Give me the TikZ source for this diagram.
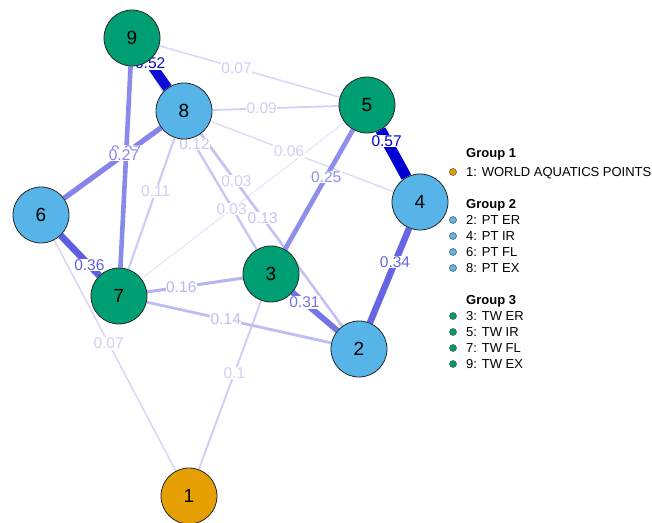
\documentclass[tikz,border=0pt]{standalone}
\usepackage{fontspec}
\setmainfont{Liberation Sans}
\usetikzlibrary{backgrounds}
\definecolor{grpA}{HTML}{E69F00}
\definecolor{grpB}{HTML}{56B4E9}
\definecolor{grpC}{HTML}{009E73}
\definecolor{eb}{RGB}{0,0,210}
\begin{document}
\begin{tikzpicture}[x=1pt,y=-1pt,
  vert/.style={circle, draw=black!85, line width=0.8pt, minimum size=56pt,
    inner sep=0pt, font=\fontsize{19}{19}\selectfont},
  gA/.style={vert, fill=grpA},
  gB/.style={vert, fill=grpB},
  gC/.style={vert, fill=grpC},
  elabel/.style={fill=white, inner sep=0.6pt, font=\fontsize{15.5}{15.5}\selectfont},
  bullet/.style={circle, draw=black!70, line width=0.5pt, minimum size=7pt, inner sep=0pt},
  legtext/.style={anchor=base west, inner sep=0pt, font=\fontsize{13}{13}\selectfont},
  leghead/.style={legtext, font=\fontsize{13}{13}\selectfont\bfseries}]
\useasboundingbox (0,0) rectangle (652,522);

% vertices
\node[gA] (n1) at (189,496) {1};
\node[gB] (n2) at (359,349) {2};
\node[gC] (n3) at (271,274) {3};
\node[gB] (n4) at (420,202) {4};
\node[gC] (n5) at (367,105) {5};
\node[gB] (n6) at (41,215) {6};
\node[gC] (n7) at (119,296) {7};
\node[gB] (n8) at (184,111) {8};
\node[gC] (n9) at (132,38) {9};

% edges: from/to/weight/line width/colour strength/label position
\def\edgelist{n7/n5/0.03/0.9/12/0.454, n9/n2/0.03/0.9/12/0.46,
  n8/n4/0.06/1.3/15/0.445, n6/n1/0.07/1.5/16/0.457, n9/n5/0.07/1.5/16/0.445,
  n8/n5/0.09/1.8/18/0.425, n3/n1/0.1/2.0/19/0.447, n8/n7/0.11/2.2/20/0.435,
  n9/n3/0.12/2.4/22/0.45, n8/n2/0.13/2.6/24/0.45, n7/n2/0.14/2.8/26/0.445,
  n7/n3/0.16/3.1/29/0.41, n5/n3/0.25/4.75/44/0.425, n9/n7/0.27/4.6/46/0.44,
  n8/n6/0.27/5.3/48/0.42, n3/n2/0.31/5.9/54/0.38, n4/n2/0.34/6.5/60/0.41,
  n7/n6/0.36/6.8/63/0.38, n9/n8/0.52/9.9/95/0.35, n5/n4/0.57/10.8/100/0.37}

\begin{pgfonlayer}{background}
  \foreach \a/\b/\w/\lw/\pc/\f in \edgelist
    \draw[line width=\lw pt, draw=eb!\pc!white] (\a) -- (\b);
  \foreach \a/\b/\w/\lw/\pc/\f in \edgelist {
    \pgfmathtruncatemacro\lp{max(\pc,19)}
    \path (\a.center) -- (\b.center) node[elabel, text=eb!\lp!white, pos=\f] {\w};
  }
\end{pgfonlayer}

% legend
\node[leghead] (h1) at (466,157.6) {Group 1};
\node[bullet, fill=grpA] (b1) at (453,172) {};
\node[legtext] (t1) at (466,176.6) {1: WORLD AQUATICS POINTS};

\node[leghead] (h2) at (466,208.6) {Group 2};
\node[bullet, fill=grpB] (b2) at (453,220) {};
\node[legtext] (t2) at (466,224.6) {2: PT ER};
\node[bullet, fill=grpB] (b4) at (453,236) {};
\node[legtext] (t4) at (466,240.6) {4: PT IR};
\node[bullet, fill=grpB] (b6) at (453,252) {};
\node[legtext] (t6) at (466,256.6) {6: PT FL};
\node[bullet, fill=grpB] (b8) at (453,268) {};
\node[legtext] (t8) at (466,272.6) {8: PT EX};

\node[leghead] (h3) at (466,304.6) {Group 3};
\node[bullet, fill=grpC] (b3) at (453,316) {};
\node[legtext] (t3) at (466,320.6) {3: TW ER};
\node[bullet, fill=grpC] (b5) at (453,332) {};
\node[legtext] (t5) at (466,336.6) {5: TW IR};
\node[bullet, fill=grpC] (b7) at (453,348) {};
\node[legtext] (t7) at (466,352.6) {7: TW FL};
\node[bullet, fill=grpC] (b9) at (453,364) {};
\node[legtext] (t9) at (466,368.6) {9: TW EX};
\end{tikzpicture}
\end{document}
